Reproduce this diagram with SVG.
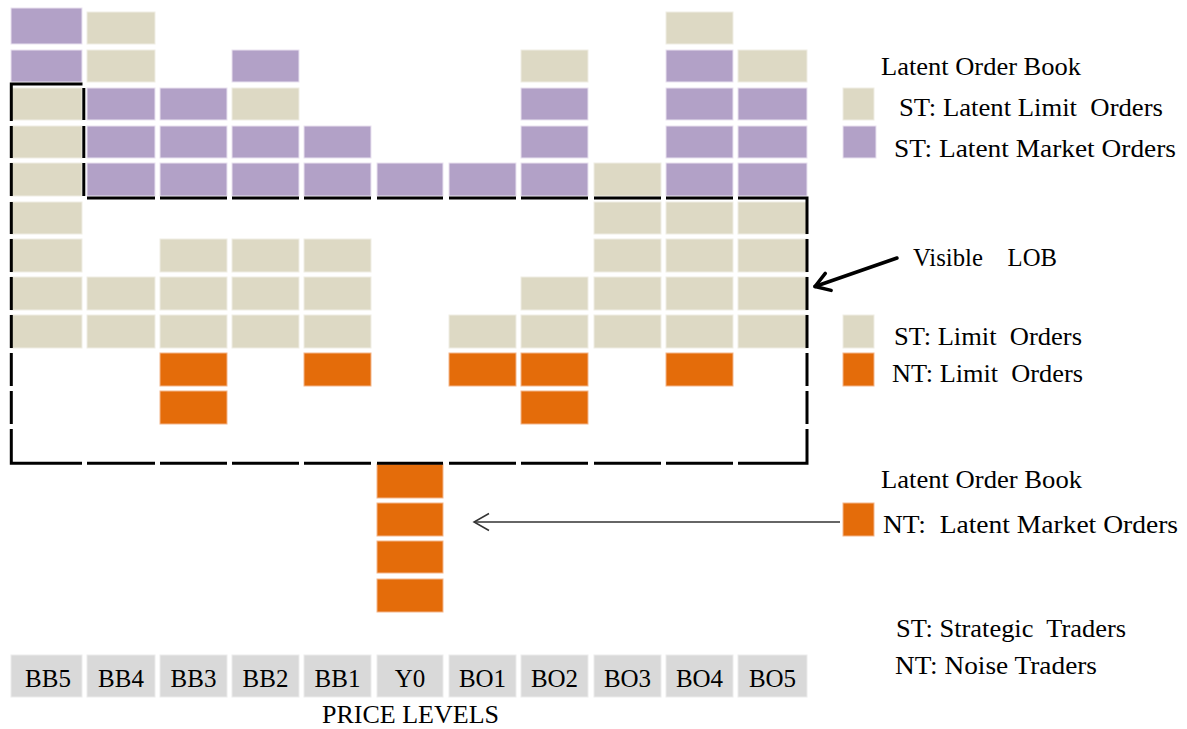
<svg xmlns="http://www.w3.org/2000/svg" width="1187" height="729" viewBox="0 0 1187 729">
<style>
.p{fill:#B2A1C7;stroke:#E9E2F0;stroke-width:1}
.t{fill:#DDD9C4;stroke:#EFEDE4;stroke-width:1}
.o{fill:#E46C0A;stroke:#F3B58A;stroke-width:1}
.lb{fill:#D9D9D9;stroke:#EBEBEB;stroke-width:1}
.b{stroke:#000;stroke-width:3;fill:none}
text{font-family:"Liberation Serif","Times New Roman",serif;fill:#000}
.lg{font-size:25px;white-space:pre}
.pl{font-size:25px;text-anchor:middle}
</style>
<defs>
<marker id="thick" markerUnits="userSpaceOnUse" viewBox="-20 -12 24 24" refX="0" refY="0" markerWidth="24" markerHeight="24" orient="auto" overflow="visible">
<path d="M-14,-9 L0,0 L-14,9" fill="none" stroke="#000" stroke-width="3.5" stroke-linecap="round" stroke-linejoin="round"/>
</marker>
<marker id="thin" markerUnits="userSpaceOnUse" viewBox="-20 -12 24 24" refX="0" refY="0" markerWidth="24" markerHeight="24" orient="auto" overflow="visible">
<path d="M-15,-8.5 L0,0 L-15,8.5" fill="none" stroke="#333" stroke-width="1.5"/>
</marker>
</defs>
<rect width="1187" height="729" fill="#fff"/>

<g id="col-BB5">
<rect class="p" x="11" y="8" width="71" height="36"/>
<rect class="p" x="11" y="50" width="71" height="32"/>
<rect class="t" x="11" y="88" width="71" height="32"/>
<rect class="t" x="11" y="126" width="71" height="32"/>
<rect class="t" x="11" y="163" width="71" height="33"/>
<rect class="t" x="11" y="202" width="71" height="32"/>
<rect class="t" x="11" y="239" width="71" height="33"/>
<rect class="t" x="11" y="277" width="71" height="33"/>
<rect class="t" x="11" y="315" width="71" height="33"/>
</g>
<g id="col-BB4">
<rect class="t" x="87" y="12" width="68" height="32"/>
<rect class="t" x="87" y="50" width="68" height="32"/>
<rect class="p" x="87" y="88" width="68" height="32"/>
<rect class="p" x="87" y="126" width="68" height="32"/>
<rect class="p" x="87" y="163" width="68" height="33"/>
<rect class="t" x="87" y="277" width="68" height="33"/>
<rect class="t" x="87" y="315" width="68" height="33"/>
</g>
<g id="col-BB3">
<rect class="p" x="160" y="88" width="67" height="32"/>
<rect class="p" x="160" y="126" width="67" height="32"/>
<rect class="p" x="160" y="163" width="67" height="33"/>
<rect class="t" x="160" y="239" width="67" height="33"/>
<rect class="t" x="160" y="277" width="67" height="33"/>
<rect class="t" x="160" y="315" width="67" height="33"/>
<rect class="o" x="160" y="353" width="67" height="33"/>
<rect class="o" x="160" y="391" width="67" height="33"/>
</g>
<g id="col-BB2">
<rect class="p" x="232" y="50" width="67" height="32"/>
<rect class="t" x="232" y="88" width="67" height="32"/>
<rect class="p" x="232" y="126" width="67" height="32"/>
<rect class="p" x="232" y="163" width="67" height="33"/>
<rect class="t" x="232" y="239" width="67" height="33"/>
<rect class="t" x="232" y="277" width="67" height="33"/>
<rect class="t" x="232" y="315" width="67" height="33"/>
</g>
<g id="col-BB1">
<rect class="p" x="304" y="126" width="67" height="32"/>
<rect class="p" x="304" y="163" width="67" height="33"/>
<rect class="t" x="304" y="239" width="67" height="33"/>
<rect class="t" x="304" y="277" width="67" height="33"/>
<rect class="t" x="304" y="315" width="67" height="33"/>
<rect class="o" x="304" y="353" width="67" height="33"/>
</g>
<g id="col-Y0">
<rect class="p" x="377" y="163" width="66" height="33"/>
<rect class="o" x="377" y="464" width="66" height="34"/>
<rect class="o" x="377" y="503" width="66" height="33"/>
<rect class="o" x="377" y="541" width="66" height="32"/>
<rect class="o" x="377" y="579" width="66" height="33"/>
</g>
<g id="col-BO1">
<rect class="p" x="449" y="163" width="67" height="33"/>
<rect class="t" x="449" y="315" width="67" height="33"/>
<rect class="o" x="449" y="353" width="67" height="33"/>
</g>
<g id="col-BO2">
<rect class="t" x="521" y="50" width="67" height="32"/>
<rect class="p" x="521" y="88" width="67" height="32"/>
<rect class="p" x="521" y="126" width="67" height="32"/>
<rect class="p" x="521" y="163" width="67" height="33"/>
<rect class="t" x="521" y="277" width="67" height="33"/>
<rect class="t" x="521" y="315" width="67" height="33"/>
<rect class="o" x="521" y="353" width="67" height="33"/>
<rect class="o" x="521" y="391" width="67" height="33"/>
</g>
<g id="col-BO3">
<rect class="t" x="594" y="163" width="67" height="33"/>
<rect class="t" x="594" y="202" width="67" height="32"/>
<rect class="t" x="594" y="239" width="67" height="33"/>
<rect class="t" x="594" y="277" width="67" height="33"/>
<rect class="t" x="594" y="315" width="67" height="33"/>
</g>
<g id="col-BO4">
<rect class="t" x="666" y="12" width="67" height="32"/>
<rect class="p" x="666" y="50" width="67" height="32"/>
<rect class="p" x="666" y="88" width="67" height="32"/>
<rect class="p" x="666" y="126" width="67" height="32"/>
<rect class="p" x="666" y="163" width="67" height="33"/>
<rect class="t" x="666" y="202" width="67" height="32"/>
<rect class="t" x="666" y="239" width="67" height="33"/>
<rect class="t" x="666" y="277" width="67" height="33"/>
<rect class="t" x="666" y="315" width="67" height="33"/>
<rect class="o" x="666" y="353" width="67" height="33"/>
</g>
<g id="col-BO5">
<rect class="t" x="738" y="50" width="69" height="32"/>
<rect class="p" x="738" y="88" width="69" height="32"/>
<rect class="p" x="738" y="126" width="69" height="32"/>
<rect class="p" x="738" y="163" width="69" height="33"/>
<rect class="t" x="738" y="202" width="69" height="32"/>
<rect class="t" x="738" y="239" width="69" height="33"/>
<rect class="t" x="738" y="277" width="69" height="33"/>
<rect class="t" x="738" y="315" width="69" height="33"/>
</g>

<g id="visible-lob-border">
<path class="b" d="M11.3,121 V84 H82.5 M11.3,126 V158 M11.3,163 V196 M11.3,202 V234 M11.3,239 V272 M11.3,277 V310 M11.3,315 V348 M11.3,353 V386 M11.3,391 V424 M11.3,429 V463.3 H82
M83.8,88 V120 M83.8,126 V158 M83.8,163 V196
M87,198 H155 M160,198 H227 M232,198 H299 M304,198 H371 M377,198 H443 M449,198 H516 M521,198 H588 M594,198 H661 M666,198 H733 M738,198 H807 V234
M807,239 V272 M807,277 V310 M807,315 V348 M807,353 V386 M807,391 V424 M807,429 V463.3 H738
M87,463.3 H155 M160,463.3 H227 M232,463.3 H299 M304,463.3 H371 M377,463.3 H443 M449,463.3 H516 M521,463.3 H588 M594,463.3 H661 M666,463.3 H733"/>
</g>

<g id="price-levels">
<rect class="lb" x="11" y="655" width="71" height="42"/><text class="pl" x="48" y="687">BB5</text>
<rect class="lb" x="87" y="655" width="68" height="42"/><text class="pl" x="121" y="687">BB4</text>
<rect class="lb" x="160" y="655" width="67" height="42"/><text class="pl" x="193.5" y="687">BB3</text>
<rect class="lb" x="232" y="655" width="67" height="42"/><text class="pl" x="265.5" y="687">BB2</text>
<rect class="lb" x="304" y="655" width="67" height="42"/><text class="pl" x="337.5" y="687">BB1</text>
<rect class="lb" x="377" y="655" width="66" height="42"/><text class="pl" x="410" y="687">Y0</text>
<rect class="lb" x="449" y="655" width="67" height="42"/><text class="pl" x="482.5" y="687">BO1</text>
<rect class="lb" x="521" y="655" width="67" height="42"/><text class="pl" x="554.5" y="687">BO2</text>
<rect class="lb" x="594" y="655" width="67" height="42"/><text class="pl" x="627.5" y="687">BO3</text>
<rect class="lb" x="666" y="655" width="67" height="42"/><text class="pl" x="699.5" y="687">BO4</text>
<rect class="lb" x="738" y="655" width="69" height="42"/><text class="pl" x="772.5" y="687">BO5</text>
<text x="322" y="723" style="font-size:25px" textLength="177" lengthAdjust="spacingAndGlyphs">PRICE LEVELS</text>
</g>

<g id="legend-latent-top">
<text class="lg" x="881" y="75" textLength="200" lengthAdjust="spacingAndGlyphs">Latent Order Book</text>
<rect class="t" x="843" y="88" width="31" height="32"/>
<text class="lg" x="899" y="116" textLength="264" lengthAdjust="spacingAndGlyphs">ST: Latent Limit  Orders</text>
<rect class="p" x="843" y="126" width="33" height="32"/>
<text class="lg" x="894" y="157" textLength="282" lengthAdjust="spacingAndGlyphs">ST: Latent Market Orders</text>
</g>
<g id="label-visible-lob">
<text class="lg" x="913" y="266" textLength="144" lengthAdjust="spacingAndGlyphs">Visible    LOB</text>
</g>
<g id="legend-visible">
<rect class="t" x="843" y="315" width="31" height="33"/>
<text class="lg" x="894" y="345" textLength="188" lengthAdjust="spacingAndGlyphs">ST: Limit  Orders</text>
<rect class="o" x="843" y="353" width="31" height="33"/>
<text class="lg" x="892" y="382" textLength="191" lengthAdjust="spacingAndGlyphs">NT: Limit  Orders</text>
</g>
<g id="legend-latent-bottom">
<text class="lg" x="881" y="488" textLength="201" lengthAdjust="spacingAndGlyphs">Latent Order Book</text>
<rect class="o" x="843" y="503" width="31" height="33"/>
<text class="lg" x="883" y="533" textLength="295" lengthAdjust="spacingAndGlyphs">NT:  Latent Market Orders</text>
</g>
<g id="legend-abbrev">
<text class="lg" x="896" y="637" textLength="230" lengthAdjust="spacingAndGlyphs">ST: Strategic  Traders</text>
<text class="lg" x="895" y="674" textLength="202" lengthAdjust="spacingAndGlyphs">NT: Noise Traders</text>
</g>

<g id="connectors">
<line x1="897" y1="258" x2="815" y2="286.5" stroke="#000" stroke-width="3.5" stroke-linecap="round" marker-end="url(#thick)"/>
<line x1="840" y1="522" x2="474" y2="522" stroke="#333" stroke-width="1.5" marker-end="url(#thin)"/>
</g>
</svg>
